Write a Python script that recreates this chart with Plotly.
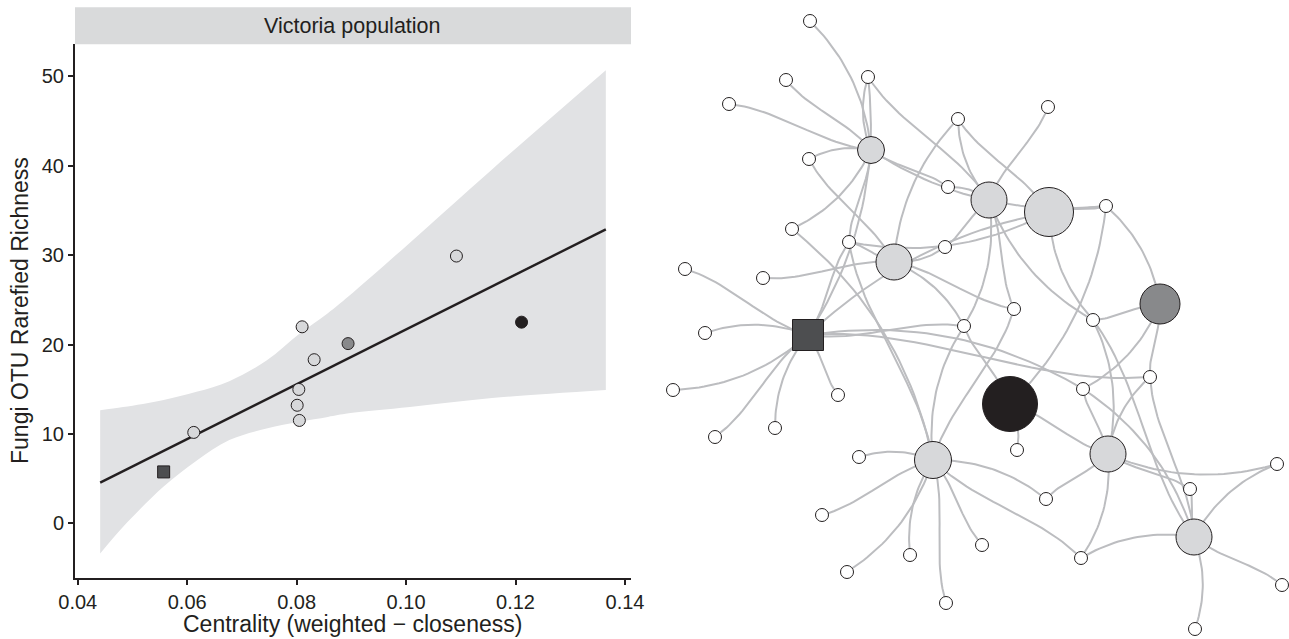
import numpy as np
import plotly.graph_objects as go

# ---------------- Left panel data ----------------
centrality = [0.0557, 0.0612, 0.0810, 0.0894, 0.0832, 0.0804, 0.0801, 0.0805, 0.1211, 0.1092]
richness = [5.74, 10.16, 21.98, 20.1, 18.3, 14.97, 13.2, 11.5, 22.5, 29.9]
point_kind = ["square", "light", "light", "mid", "light", "light", "light", "light", "dark", "light"]

fit_range = [0.0441, 0.1365]
band_x = [0.0441, 0.0483, 0.0557, 0.0617, 0.0677, 0.0745, 0.0805, 0.0857, 0.0895, 0.1007, 0.1157, 0.1365]
band_upper = [12.65, 13.0, 13.8, 14.7, 15.9, 18.2, 21.2, 23.5, 25.4, 31.4, 39.6, 50.7]
band_lower = [-3.4, -0.4, 4.1, 7.0, 9.3, 10.6, 11.35, 11.9, 12.3, 13.0, 14.0, 14.9]

x_ticks = [0.04, 0.06, 0.08, 0.10, 0.12, 0.14]
y_ticks = [0, 10, 20, 30, 40, 50]
panel_title = "Victoria population"
x_title = "Centrality (weighted \u2212 closeness)"
y_title = "Fungi OTU Rarefied Richness"

# ---------------- Network data (layout coordinates) ----------------
node_name = ["A", "B", "C", "D", "S", "E", "F", "G", "H", "I",
             "n1", "n2", "n3", "n4", "n5", "n6", "n7", "n8", "n9", "n10",
             "n11", "n12", "n13", "n14", "n15", "n16", "n17", "n18", "n19", "n20",
             "n21", "n22", "n23", "n24", "n25", "n26", "n27", "n28", "n29", "n30",
             "n31", "n32", "n33", "n34", "n35", "n36", "n37"]
node_x = [871, 989, 1049, 894, 808, 1160, 1010, 933, 1108, 1194,
          810, 786, 868, 729, 809, 958, 1048, 948, 792, 849,
          945, 1106, 685, 763, 705, 964, 1014, 1093, 673, 838,
          775, 715, 1083, 1150, 1017, 859, 822, 1046, 1277, 1190,
          982, 910, 1081, 847, 946, 1282, 1195]
node_y = [150, 200, 212, 262, 335, 304, 404, 460, 454, 537,
          21, 80, 77, 104, 159, 119, 107, 187, 229, 242,
          247, 206, 269, 278, 333, 326, 309, 320, 390, 395,
          428, 437, 389, 377, 450, 457, 515, 499, 464, 489,
          545, 555, 558, 572, 603, 585, 629]
node_size = [28, 37, 50, 37, 32, 41, 56, 38, 37, 37] + [14] * 37
node_kind = ["light", "light", "light", "light", "square", "mid", "dark", "light", "light", "light"] + ["leaf"] * 37

edge_source = (["A"] * 9 + ["B"] * 8 + ["C"] * 4 + ["D"] * 7 + ["S"] * 12 +
               ["E"] * 4 + ["F"] * 4 + ["G"] * 12 + ["H"] * 7 + ["I"] * 8)
edge_target = ["n1", "n2", "n3", "n4", "n5", "n8", "n9", "n10", "n12",
               "n3", "n6", "n7", "n8", "n11", "n16", "n17", "n18",
               "n6", "n10", "n12", "n18",
               "n5", "n6", "n10", "n11", "n14", "n16", "n17",
               "n3", "n10", "n12", "n13", "n15", "n16", "n19", "n20", "n21", "n22", "n23", "n24",
               "n12", "n18", "n23", "n24",
               "n12", "n16", "n25", "H",
               "n9", "n10", "n16", "n17", "n26", "n27", "n28", "n31", "n32", "n33", "n34", "n35",
               "n18", "n23", "n24", "n28", "n29", "n30", "n33",
               "n18", "n23", "n24", "n29", "n30", "n33", "n36", "n37"]

# ---------------- Styles ----------------
INK = "#231F20"
FILL = {"light": "#D7D8DA", "mid": "#88898B", "dark": "#231F20", "square": "#4D4E50", "leaf": "#FFFFFF"}
EDGE = "#BCBDC0"
FONT = "Liberation Sans, Arial, sans-serif"
W, H = 1289, 639
BEND_PATTERN = [(0.12, 0.12), (0.07, -0.07), (-0.12, -0.12), (-0.07, 0.07)]

fig = go.Figure()

# ---- confidence band & fit line ----
fig.add_trace(go.Scatter(x=band_x, y=band_lower, mode="lines", line=dict(width=0, shape="spline"),
                         hoverinfo="skip", showlegend=False, xaxis="x", yaxis="y"))
fig.add_trace(go.Scatter(x=band_x, y=band_upper, mode="lines", line=dict(width=0, shape="spline"),
                         fill="tonexty", fillcolor="#E1E2E4", hoverinfo="skip", showlegend=False,
                         xaxis="x", yaxis="y"))
slope, intercept = np.polyfit(centrality, richness, 1)
fx = np.array(fit_range)
fig.add_trace(go.Scatter(x=fx, y=slope * fx + intercept, mode="lines",
                         line=dict(color=INK, width=2.4), showlegend=False, xaxis="x", yaxis="y"))

# ---- scatter points ----
for kind in ["light", "mid", "dark", "square"]:
    xs = [c for c, k in zip(centrality, point_kind) if k == kind]
    ys = [r for r, k in zip(richness, point_kind) if k == kind]
    fig.add_trace(go.Scatter(
        x=xs, y=ys, mode="markers", showlegend=False, xaxis="x", yaxis="y",
        marker=dict(symbol="square" if kind == "square" else "circle",
                    size=12, opacity=1,
                    color=FILL[kind], line=dict(color=INK, width=1))))

# ---- network edges (curved) ----
idx = {n: i for i, n in enumerate(node_name)}
ex, ey = [], []
t = np.linspace(0, 1, 30)
for j, (s, d) in enumerate(zip(edge_source, edge_target)):
    x0, y0 = node_x[idx[s]], node_y[idx[s]]
    x1, y1 = node_x[idx[d]], node_y[idx[d]]
    dx, dy = x1 - x0, y1 - y0
    L = np.hypot(dx, dy)
    px, py = -dy / L, dx / L
    k1, k2 = BEND_PATTERN[j % len(BEND_PATTERN)]
    c1 = (x0 + dx / 3 + px * k1 * L, y0 + dy / 3 + py * k1 * L)
    c2 = (x0 + 2 * dx / 3 + px * k2 * L, y0 + 2 * dy / 3 + py * k2 * L)
    bx = (1 - t) ** 3 * x0 + 3 * (1 - t) ** 2 * t * c1[0] + 3 * (1 - t) * t ** 2 * c2[0] + t ** 3 * x1
    by = (1 - t) ** 3 * y0 + 3 * (1 - t) ** 2 * t * c1[1] + 3 * (1 - t) * t ** 2 * c2[1] + t ** 3 * y1
    ex += list(bx) + [None]
    ey += list(by) + [None]
fig.add_trace(go.Scatter(x=ex, y=ey, mode="lines", line=dict(color=EDGE, width=2),
                         hoverinfo="skip", showlegend=False, xaxis="x2", yaxis="y2"))

# ---- network nodes ----
for kind in ["leaf", "light", "mid", "dark", "square"]:
    sel = [i for i, k in enumerate(node_kind) if k == kind]
    fig.add_trace(go.Scatter(
        x=[node_x[i] for i in sel], y=[node_y[i] for i in sel], mode="markers",
        text=[node_name[i] for i in sel], hoverinfo="text", showlegend=False,
        xaxis="x2", yaxis="y2", cliponaxis=False,
        marker=dict(symbol="square" if kind == "square" else "circle",
                    size=[node_size[i] - 1 for i in sel], color=FILL[kind], opacity=1,
                    line=dict(color=INK, width=1))))

# ---- layout ----
px_l, px_r, py_t, py_b = 75, 631, 44.3, 577.7
xd = [px_l / W, px_r / W]
yd = [(H - py_b) / H, (H - py_t) / H]

fig.update_layout(
    template="none",
    width=W, height=H, autosize=False,
    margin=dict(l=0, r=0, t=0, b=0, pad=0, autoexpand=False),
    paper_bgcolor="white", plot_bgcolor="white",
    font=dict(family=FONT, color=INK),
    xaxis=dict(domain=xd, range=[0.0395, 0.1411], showgrid=False, zeroline=False, automargin=False,
               showline=True, linecolor=INK, linewidth=2, ticks="outside", ticklen=5,
               tickwidth=1.5, tickcolor=INK, tickvals=x_ticks,
               ticktext=[f"{v:.2f}" for v in x_ticks], tickfont=dict(size=20, color=INK),
               anchor="y"),
    yaxis=dict(domain=yd, range=[-6.1, 53.6], showgrid=False, zeroline=False, automargin=False,
               showline=True, linecolor=INK, linewidth=2, ticks="outside", ticklen=5,
               tickwidth=1.5, tickcolor=INK, tickvals=y_ticks,
               ticktext=[str(v) for v in y_ticks], tickfont=dict(size=20, color=INK),
               anchor="x"),
    xaxis2=dict(domain=[650 / W, 1], range=[650, 1289], visible=False, anchor="y2", automargin=False),
    yaxis2=dict(domain=[0, 1], range=[639, 0], visible=False, anchor="x2", automargin=False),
    shapes=[dict(type="rect", xref="paper", yref="paper", x0=xd[0], x1=xd[1],
                 y0=(H - 44.3) / H, y1=(H - 7.3) / H, fillcolor="#D9DADB",
                 line=dict(width=0), layer="below")],
    annotations=[
        dict(text=panel_title, xref="paper", yref="paper", x=(xd[0] + xd[1]) / 2,
             y=(H - 25.8) / H, showarrow=False, font=dict(size=21.5, color=INK),
             xanchor="center", yanchor="middle"),
        dict(text=x_title, xref="paper", yref="paper", x=(xd[0] + xd[1]) / 2,
             y=(H - 624) / H, showarrow=False, font=dict(size=23, color=INK),
             xanchor="center", yanchor="middle"),
        dict(text=y_title, xref="paper", yref="paper", x=20 / W, y=(H - 311) / H,
             showarrow=False, textangle=-90, font=dict(size=23, color=INK),
             xanchor="center", yanchor="middle"),
    ],
)

fix_page = ("document.documentElement.style.margin='0';"
            "document.documentElement.style.overflow='hidden';"
            "document.body.style.margin='0';document.body.style.padding='0';"
            "document.body.style.overflow='hidden';")

fig.write_html("out.html", config={"responsive": False, "displayModeBar": False},
               post_script=fix_page)
